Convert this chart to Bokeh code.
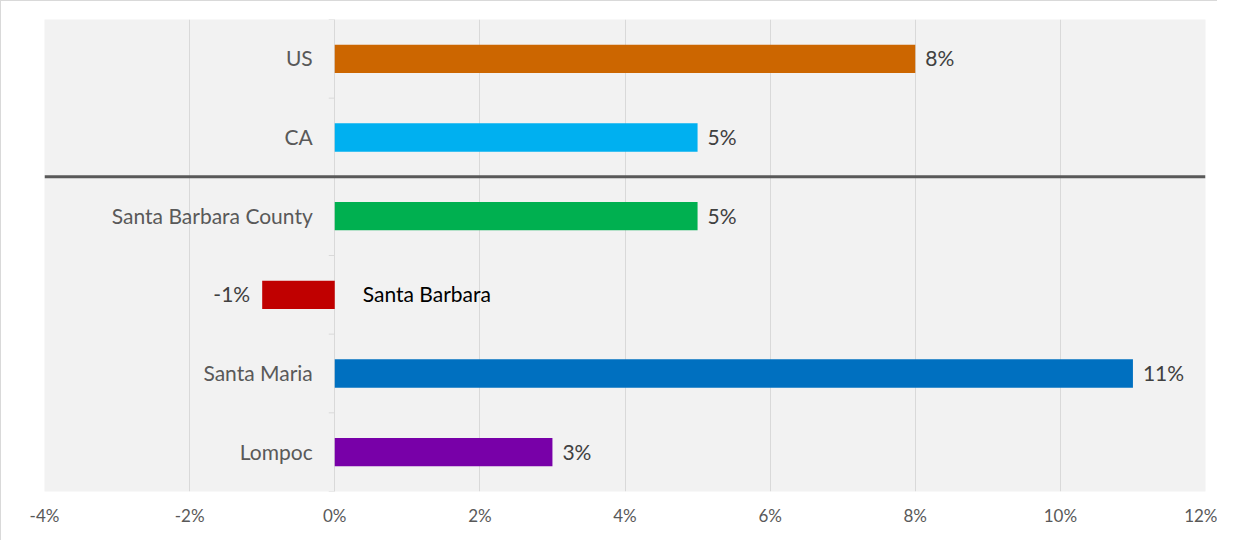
from bokeh.plotting import figure
from bokeh.models import ColumnDataSource, FixedTicker, CustomJSTickFormatter, Span
from bokeh.core.properties import value
from bokeh.embed import file_html
from bokeh.resources import INLINE

categories = ["US", "CA", "Santa Barbara County", "Santa Barbara", "Santa Maria", "Lompoc"]
values = [8, 5, 5, -1, 11, 3]
colors = ["#CC6600", "#00B0F0", "#00B050", "#C00000", "#0070C0", "#7800A8"]
x_ticks = [-4, -2, 0, 2, 4, 6, 8, 10, 12]

FONT = "Lato"
LBL = "21px"
n = len(categories)
ypos = [n - 0.5 - i for i in range(n)]

p = figure(width=1217, height=540, x_range=(-4, 12), y_range=(0, n),
           output_backend="svg", toolbar_location=None,
           min_border_left=43, min_border_right=13, min_border_top=18, min_border_bottom=50)
p.styles = {"border-left": "1px solid #d9d9d9", "border-top": "1px solid #d9d9d9"}
p.background_fill_color = "#f2f2f2"
p.border_fill_color = "white"
p.outline_line_color = None
p.yaxis.visible = False
p.ygrid.grid_line_color = None
p.xgrid.grid_line_color = "#d9d9d9"
p.xgrid.grid_line_width = 1
p.xaxis.ticker = FixedTicker(ticks=x_ticks)
p.xaxis.formatter = CustomJSTickFormatter(code="return tick + '%';")
p.xaxis.axis_line_color = None
p.xaxis.major_tick_line_color = None
p.xaxis.minor_tick_line_color = None
p.xaxis.major_tick_out = 0
p.xaxis.major_label_standoff = 13
p.xaxis.major_label_text_font = FONT
p.xaxis.major_label_text_font_size = "17px"
p.xaxis.major_label_text_color = "#595959"

src = ColumnDataSource(dict(y=ypos, v=values, c=colors, cat=categories,
                            lbl=[f"{v}%" for v in values]))
p.hbar(y="y", left=0, right="v", height=0.36, fill_color="c", line_color=None, source=src)

# category-boundary ticks on the zero line
px_per_unit = 1161 / 16.0
tick_len = 6 / px_per_unit
bounds = list(range(n + 1))
p.segment(x0=[-tick_len] * len(bounds), x1=[0] * len(bounds), y0=bounds, y1=bounds,
          line_color="#d9d9d9", line_width=1)

# divider between comparison regions and local areas
p.add_layout(Span(location=n - 2, dimension="width", line_color="#595959", line_width=3))

pos = [i for i, v in enumerate(values) if v >= 0]
neg = [i for i, v in enumerate(values) if v < 0]

def sub(idx):
    return ColumnDataSource(dict(y=[ypos[i] for i in idx], v=[values[i] for i in idx],
                                 cat=[categories[i] for i in idx],
                                 lbl=[f"{values[i]}%" for i in idx],
                                 z=[0] * len(idx)))

sp, sn = sub(pos), sub(neg)
YO = -1
# value labels
p.text(x="v", y="y", text="lbl", source=sp, x_offset=10, y_offset=YO, text_align="left",
       text_baseline="middle", text_font=value(FONT), text_font_size=LBL, text_color="#404040")
p.text(x="v", y="y", text="lbl", source=sn, x_offset=-12, y_offset=YO, text_align="right",
       text_baseline="middle", text_font=value(FONT), text_font_size=LBL, text_color="#404040")
# category labels
p.text(x="z", y="y", text="cat", source=sp, x_offset=-22, y_offset=YO, text_align="right",
       text_baseline="middle", text_font=value(FONT), text_font_size=LBL, text_color="#595959")
p.text(x="z", y="y", text="cat", source=sn, x_offset=28, y_offset=YO, text_align="left",
       text_baseline="middle", text_font=value(FONT), text_font_size=LBL, text_color="#000000")

open("out.html", "w").write(file_html(p, INLINE))
